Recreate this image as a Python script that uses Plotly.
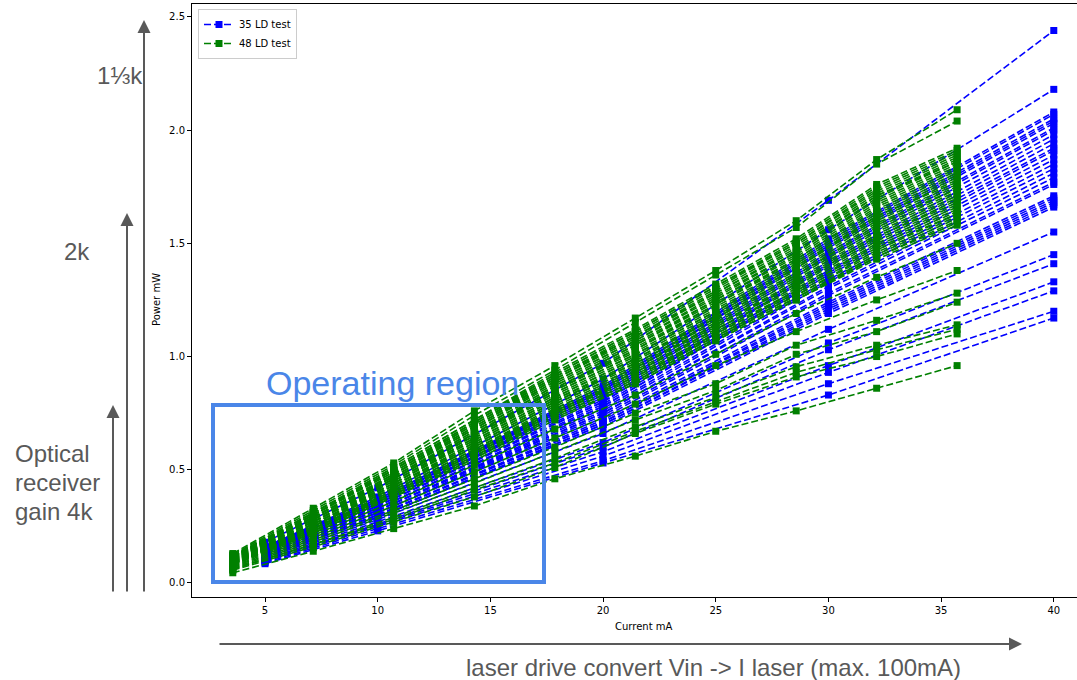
import plotly.graph_objects as go

# Drive current steps (mA) for each LD batch
blue_current = [5, 10, 20, 30, 40]
green_current = [3.57, 7.14, 10.71, 14.29, 17.86, 21.43, 25.0, 28.57, 32.14, 35.71]

# Optical power (mW) per current step, one entry per LD (same LD order in every list)
blue_p5 = [0.18, 0.16,
           0.16, 0.16, 0.16, 0.155, 0.155, 0.15, 0.15, 0.15, 0.145, 0.145, 0.14, 0.14, 0.14,
           0.135, 0.135, 0.13, 0.13, 0.13, 0.125, 0.125, 0.12, 0.12, 0.12, 0.12, 0.115, 0.115,
           0.11, 0.105, 0.10, 0.10, 0.095, 0.09, 0.085]
blue_p10 = [0.42, 0.38,
            0.37, 0.37, 0.36, 0.36, 0.36, 0.35, 0.35, 0.35, 0.34, 0.34, 0.34, 0.33, 0.33,
            0.33, 0.32, 0.32, 0.32, 0.31, 0.31, 0.31, 0.30, 0.30, 0.30, 0.29, 0.29, 0.29,
            0.28, 0.27, 0.26, 0.255, 0.25, 0.24, 0.23]
blue_p20 = [0.97, 0.90,
            0.87, 0.86, 0.86, 0.85, 0.85, 0.84, 0.83, 0.82, 0.81, 0.80, 0.80, 0.79, 0.78,
            0.78, 0.77, 0.76, 0.75, 0.75, 0.74, 0.73, 0.72, 0.71, 0.71, 0.70, 0.70, 0.69,
            0.66, 0.62, 0.60, 0.58, 0.56, 0.54, 0.53]
blue_p30 = [1.69, 1.56,
            1.52, 1.51, 1.50, 1.49, 1.48, 1.46, 1.45, 1.44, 1.42, 1.41, 1.40, 1.38, 1.37,
            1.36, 1.34, 1.33, 1.31, 1.30, 1.28, 1.27, 1.24, 1.23, 1.22, 1.21, 1.20, 1.19,
            1.12, 1.06, 1.03, 0.96, 0.93, 0.88, 0.83]
blue_p40 = [2.44, 2.18,
            2.08, 2.07, 2.05, 2.04, 2.03, 2.01, 2.00, 1.98, 1.96, 1.94, 1.92, 1.91, 1.89,
            1.87, 1.85, 1.83, 1.81, 1.79, 1.77, 1.76, 1.71, 1.70, 1.69, 1.68, 1.67, 1.66,
            1.55, 1.45, 1.41, 1.33, 1.29, 1.20, 1.17]

green_p3_57 = [0.130, 0.125,
               0.120, 0.119, 0.118, 0.117, 0.116, 0.115, 0.114, 0.113, 0.112, 0.111, 0.110,
               0.109, 0.108, 0.107, 0.106, 0.105, 0.104, 0.103, 0.102, 0.101, 0.100, 0.099,
               0.098, 0.097, 0.096, 0.095, 0.094, 0.093, 0.092, 0.091, 0.090, 0.089, 0.088,
               0.087, 0.086, 0.085, 0.084, 0.083,
               0.080, 0.076, 0.072, 0.068, 0.064, 0.060, 0.056, 0.045]
green_p7_14 = [0.33, 0.32,
               0.31, 0.31, 0.31, 0.30, 0.30, 0.30, 0.30, 0.29, 0.29, 0.29, 0.29, 0.28, 0.28,
               0.28, 0.28, 0.27, 0.27, 0.27, 0.27, 0.26, 0.26, 0.26, 0.26, 0.25, 0.25, 0.25,
               0.25, 0.24, 0.24, 0.24, 0.24, 0.23, 0.23, 0.23, 0.23, 0.22, 0.22, 0.22,
               0.21, 0.20, 0.19, 0.18, 0.17, 0.17, 0.16, 0.14]
green_p10_71 = [0.53, 0.52,
                0.51, 0.51, 0.50, 0.50, 0.50, 0.49, 0.49, 0.48, 0.48, 0.48, 0.47, 0.47, 0.47,
                0.46, 0.46, 0.46, 0.45, 0.45, 0.44, 0.44, 0.44, 0.43, 0.43, 0.43, 0.42, 0.42,
                0.42, 0.41, 0.41, 0.40, 0.40, 0.40, 0.39, 0.39, 0.39, 0.38, 0.38, 0.38,
                0.36, 0.34, 0.32, 0.31, 0.29, 0.28, 0.27, 0.24]
green_p14_29 = [0.76, 0.74,
                0.72, 0.72, 0.71, 0.71, 0.70, 0.70, 0.69, 0.69, 0.68, 0.68, 0.67, 0.67, 0.66,
                0.66, 0.66, 0.65, 0.65, 0.64, 0.64, 0.63, 0.63, 0.62, 0.62, 0.61, 0.61, 0.60,
                0.60, 0.59, 0.59, 0.58, 0.58, 0.57, 0.57, 0.56, 0.56, 0.55, 0.55, 0.54,
                0.52, 0.49, 0.46, 0.44, 0.42, 0.41, 0.38, 0.34]
green_p17_86 = [0.96, 0.94,
                0.93, 0.92, 0.92, 0.91, 0.91, 0.90, 0.90, 0.89, 0.89, 0.88, 0.87, 0.87, 0.86,
                0.86, 0.85, 0.85, 0.84, 0.84, 0.83, 0.82, 0.82, 0.81, 0.81, 0.80, 0.80, 0.79,
                0.79, 0.78, 0.77, 0.77, 0.76, 0.76, 0.75, 0.75, 0.74, 0.74, 0.73, 0.72,
                0.68, 0.64, 0.60, 0.58, 0.55, 0.53, 0.51, 0.46]
green_p21_43 = [1.17, 1.15,
                1.12, 1.11, 1.11, 1.10, 1.09, 1.09, 1.08, 1.07, 1.07, 1.06, 1.05, 1.05, 1.04,
                1.03, 1.03, 1.02, 1.01, 1.01, 1.00, 0.99, 0.99, 0.98, 0.97, 0.97, 0.96, 0.95,
                0.95, 0.94, 0.93, 0.93, 0.92, 0.91, 0.91, 0.90, 0.89, 0.89, 0.88, 0.88,
                0.83, 0.79, 0.75, 0.72, 0.69, 0.67, 0.66, 0.56]
green_p25 = [1.38, 1.36,
             1.32, 1.31, 1.31, 1.30, 1.29, 1.28, 1.28, 1.27, 1.26, 1.25, 1.25, 1.24, 1.23,
             1.23, 1.22, 1.21, 1.20, 1.20, 1.19, 1.18, 1.17, 1.17, 1.16, 1.15, 1.14, 1.14,
             1.13, 1.12, 1.12, 1.11, 1.10, 1.10, 1.09, 1.09, 1.08, 1.08, 1.07, 1.07,
             1.01, 0.96, 0.88, 0.85, 0.82, 0.80, 0.79, 0.67]
green_p28_57 = [1.60, 1.57,
                1.52, 1.51, 1.50, 1.50, 1.49, 1.48, 1.47, 1.46, 1.46, 1.45, 1.44, 1.43, 1.43,
                1.42, 1.41, 1.40, 1.39, 1.39, 1.38, 1.37, 1.36, 1.36, 1.35, 1.34, 1.33, 1.32,
                1.32, 1.31, 1.30, 1.29, 1.29, 1.28, 1.27, 1.27, 1.26, 1.26, 1.25, 1.25,
                1.19, 1.11, 1.05, 1.01, 0.955, 0.93, 0.91, 0.76]
green_p32_14 = [1.87, 1.85,
                1.76, 1.75, 1.74, 1.73, 1.72, 1.71, 1.71, 1.70, 1.69, 1.68, 1.67, 1.66, 1.65,
                1.64, 1.63, 1.62, 1.62, 1.61, 1.60, 1.59, 1.58, 1.57, 1.56, 1.55, 1.54, 1.53,
                1.53, 1.52, 1.51, 1.50, 1.49, 1.48, 1.47, 1.46, 1.45, 1.44, 1.44, 1.43,
                1.35, 1.25, 1.16, 1.11, 1.05, 1.03, 1.00, 0.86]
green_p35_71 = [2.09, 2.04,
                1.92, 1.91, 1.90, 1.89, 1.88, 1.87, 1.86, 1.86, 1.85, 1.84, 1.83, 1.82, 1.81,
                1.80, 1.79, 1.78, 1.77, 1.76, 1.75, 1.74, 1.74, 1.73, 1.72, 1.71, 1.70, 1.69,
                1.68, 1.67, 1.66, 1.65, 1.64, 1.63, 1.63, 1.62, 1.61, 1.60, 1.59, 1.58,
                1.50, 1.38, 1.28, 1.24, 1.14, 1.12, 1.10, 0.96]

blue_columns = [blue_p5, blue_p10, blue_p20, blue_p30, blue_p40]
green_columns = [green_p3_57, green_p7_14, green_p10_71, green_p14_29, green_p17_86,
                 green_p21_43, green_p25, green_p28_57, green_p32_14, green_p35_71]

BLUE = "#0000ff"
GREEN = "#008000"
DASH = "7px,3px"
GREY = "#595959"
ANNOT_BLUE = "#4a86e8"

fig = go.Figure()


def add_batch(columns, currents, color, name):
    n_ld = len(columns[0])
    for i in range(n_ld):
        fig.add_trace(go.Scatter(
            x=currents,
            y=[col[i] for col in columns],
            mode="lines+markers",
            line=dict(color=color, width=1.6, dash=DASH),
            marker=dict(symbol="square", size=7, color=color),
            name=name,
            legendgroup=name,
            showlegend=(i == 0),
            hoverinfo="x+y",
        ))


add_batch(blue_columns, blue_current, BLUE, "35 LD test")
add_batch(green_columns, green_current, GREEN, "48 LD test")

# Layout geometry (pixels) of the plotting area
W, H = 1077, 680
L, R, T, B = 192, 0, 4, 83
PW, PH = W - L - R, H - T - B


def px(xp):
    return (xp - L) / PW


def py(yp):
    return (H - B - yp) / PH


tick_font = dict(family="DejaVu Sans", size=10, color="black")
note_font = dict(family="Liberation Sans", size=24, color=GREY)

fig.update_layout(
    width=W, height=H,
    margin=dict(l=L, r=R, t=T, b=B, pad=0),
    paper_bgcolor="white",
    plot_bgcolor="white",
    showlegend=True,
    legend=dict(
        x=px(198), y=py(9), xanchor="left", yanchor="top",
        bgcolor="rgba(255,255,255,0.8)", bordercolor="#cccccc", borderwidth=1,
        font=dict(family="DejaVu Sans", size=10, color="black"),
        itemwidth=30, tracegroupgap=0,
    ),
    xaxis=dict(
        range=[1.76, 41.03], tickvals=[5, 10, 15, 20, 25, 30, 35, 40],
        showgrid=False, zeroline=False,
        showline=True, linecolor="black", linewidth=1, mirror=True,
        ticks="outside", ticklen=4, tickcolor="black", tickwidth=1,
        tickfont=tick_font,
    ),
    yaxis=dict(
        range=[-0.062, 2.557], tickvals=[0, 0.5, 1.0, 1.5, 2.0, 2.5],
        tickformat=".1f",
        showgrid=False, zeroline=False,
        showline=True, linecolor="black", linewidth=1, mirror=False,
        ticks="outside", ticklen=4, tickcolor="black", tickwidth=1,
        tickfont=tick_font,
    ),
)

annotations = [
    # axis titles
    dict(text="Current mA", x=px(643), y=py(626), xref="paper", yref="paper",
         showarrow=False, font=tick_font, xanchor="center", yanchor="middle"),
    dict(text="Power mW", x=px(156), y=py(300), xref="paper", yref="paper",
         showarrow=False, font=tick_font, textangle=-90, xanchor="center", yanchor="middle"),
    # receiver gain notes
    dict(text="1⅓k", x=px(120), y=py(75), xref="paper", yref="paper",
         showarrow=False, font=note_font, xanchor="center", yanchor="middle"),
    dict(text="2k", x=px(77), y=py(251), xref="paper", yref="paper",
         showarrow=False, font=note_font, xanchor="center", yanchor="middle"),
    dict(text="Optical", x=px(13), y=py(453), xref="paper", yref="paper",
         showarrow=False, font=note_font, xanchor="left", yanchor="middle"),
    dict(text="receiver", x=px(13), y=py(482), xref="paper", yref="paper",
         showarrow=False, font=note_font, xanchor="left", yanchor="middle"),
    dict(text="gain 4k", x=px(13), y=py(511), xref="paper", yref="paper",
         showarrow=False, font=note_font, xanchor="left", yanchor="middle"),
    # operating region label
    dict(text="Operating region", x=px(392), y=py(383), xref="paper", yref="paper",
         showarrow=False, font=dict(family="Liberation Sans", size=34, color=ANNOT_BLUE),
         xanchor="center", yanchor="middle"),
    # drive note
    dict(text="laser drive convert Vin -> I laser (max. 100mA)", x=px(713), y=py(667),
         xref="paper", yref="paper", showarrow=False, font=note_font,
         xanchor="center", yanchor="middle"),
]

# Vertical gain arrows and horizontal drive arrow
arrow_style = dict(xref="paper", yref="paper", text="", showarrow=True,
                   arrowhead=2, arrowsize=1.3, arrowwidth=2, arrowcolor=GREY,
                   standoff=0, startstandoff=0)
for ax_x, tip_y in [(113, 405), (127, 213), (144, 20)]:
    annotations.append(dict(x=px(ax_x), y=py(tip_y), ax=0, ay=593 - tip_y, **arrow_style))
annotations.append(dict(x=px(1022), y=py(644), ax=218 - 1022, ay=0, **arrow_style))

fig.update_layout(annotations=annotations)

fig.add_shape(type="rect", xref="paper", yref="paper",
              x0=px(213), x1=px(544), y0=py(582), y1=py(405),
              line=dict(color=ANNOT_BLUE, width=4), fillcolor="rgba(0,0,0,0)", layer="above")

fig.write_html("out.html")
